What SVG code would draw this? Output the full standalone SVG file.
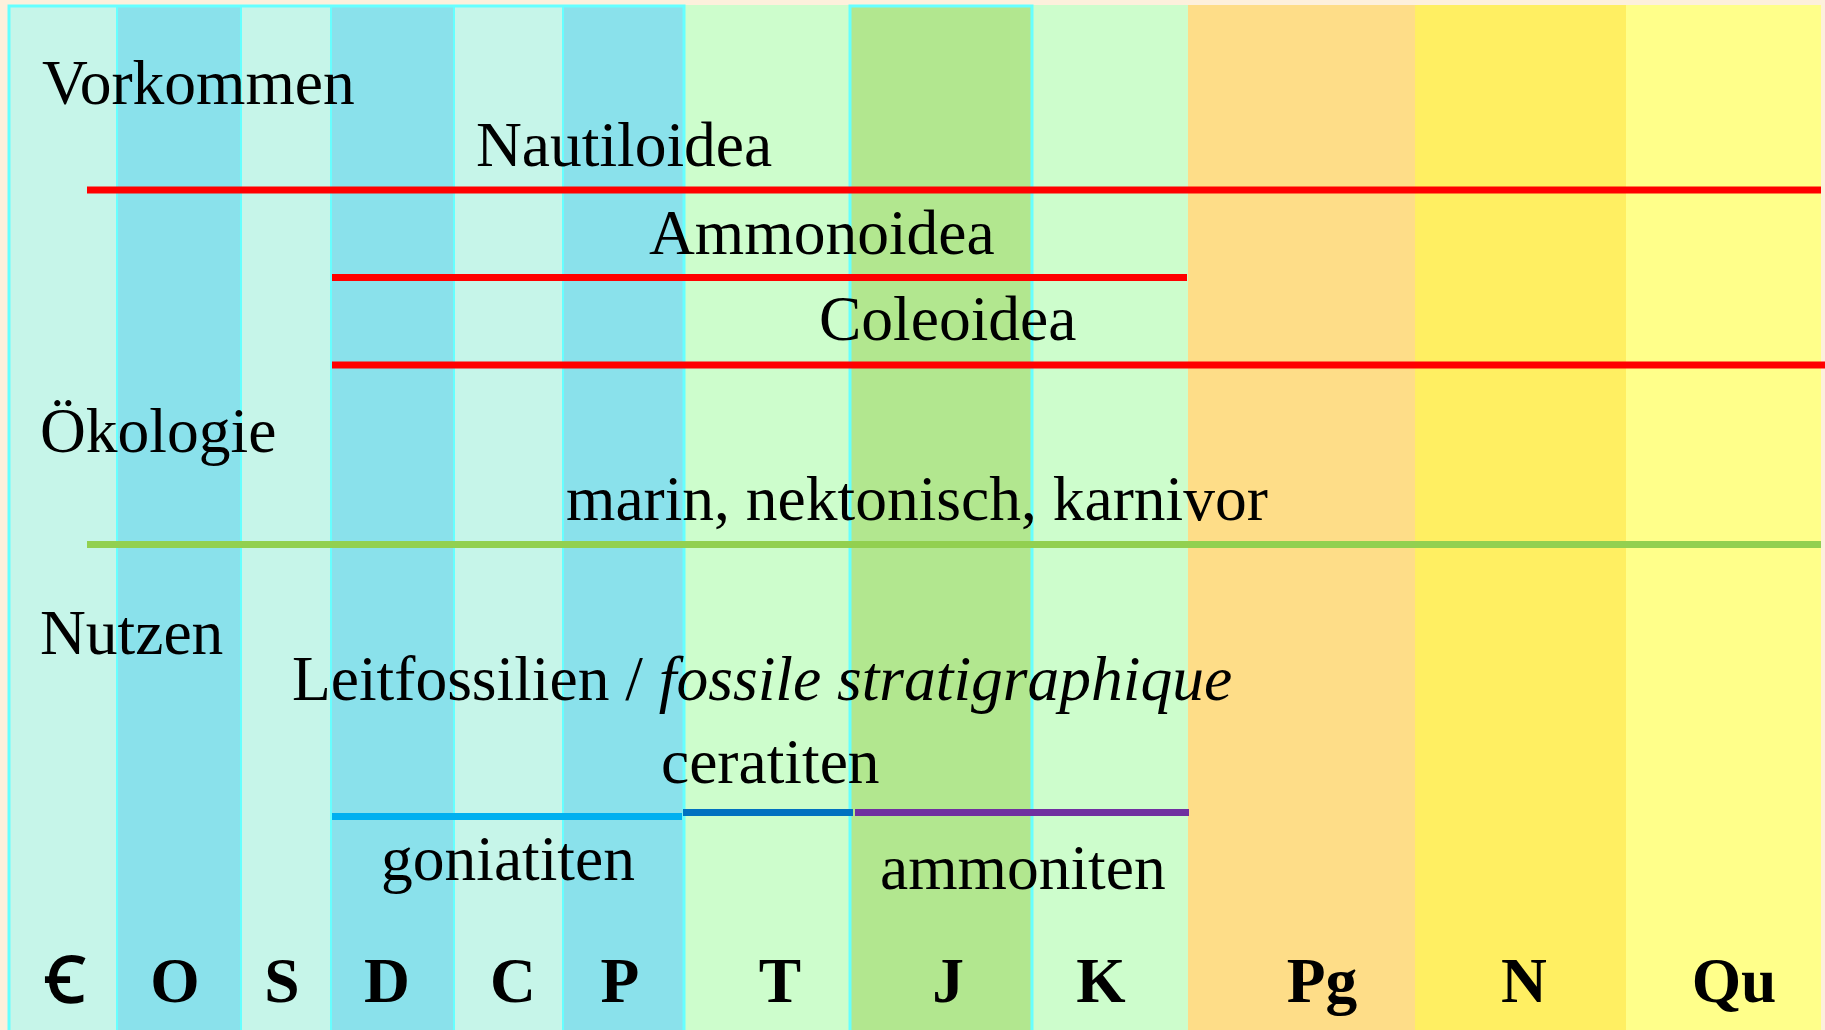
<svg xmlns="http://www.w3.org/2000/svg" width="1825" height="1030" viewBox="0 0 1825 1030">
<style>
.t{font-family:"Liberation Serif","Times New Roman",serif;font-size:63.5px;fill:#000}
.p{font-family:"Liberation Serif","DejaVu Serif","Times New Roman",serif;font-size:63.5px;font-weight:bold;fill:#000;text-anchor:middle}
.lt{fill:#c6f5e9}
.bl{fill:#8ae1eb}
.sep{stroke:#66ffff;stroke-width:2;fill:none}
.ln{stroke-width:7;fill:none}
</style>
<rect x="0" y="0" width="1825" height="1030" fill="#fdf0dc"/>
<g id="columns">
<rect class="lt" x="8" y="5" width="109" height="1025"/>
<rect class="bl" x="117" y="5" width="124" height="1025"/>
<rect class="lt" x="241" y="5" width="90" height="1025"/>
<rect class="bl" x="331" y="5" width="123" height="1025"/>
<rect class="lt" x="454" y="5" width="109" height="1025"/>
<rect class="bl" x="563" y="5" width="120" height="1025"/>
<rect x="683" y="5" width="166" height="1025" fill="#cdfdcc"/>
<rect x="849" y="5" width="183" height="1025" fill="#b2e78f"/>
<rect x="1032" y="5" width="156" height="1025" fill="#cdfdcc"/>
<rect x="1188" y="5" width="227" height="1025" fill="#fedd88"/>
<rect x="1415" y="5" width="211" height="1025" fill="#ffef62"/>
<rect x="1626" y="5" width="195" height="1025" fill="#ffff8a"/>
<path class="sep" d="M117 5V1030M241 5V1030M331 5V1030M454 5V1030M563 5V1030"/>
<rect x="9" y="6" width="675" height="1030" fill="none" stroke="#66ffff" stroke-width="3"/>
<rect x="850" y="6" width="182" height="1030" fill="none" stroke="#66ffff" stroke-width="3"/>
</g>
<g id="lines">
<line class="ln" x1="87" y1="190" x2="1821" y2="190" stroke="#ff0000"/>
<line class="ln" x1="332" y1="277.5" x2="1187" y2="277.5" stroke="#ff0000"/>
<line class="ln" x1="332" y1="365" x2="1825" y2="365" stroke="#ff0000"/>
<line class="ln" x1="87" y1="544.5" x2="1821" y2="544.5" stroke="#92d050"/>
<line class="ln" x1="332" y1="816.5" x2="682" y2="816.5" stroke="#00b0f0"/>
<line class="ln" x1="683" y1="812.5" x2="853" y2="812.5" stroke="#0070c0"/>
<line class="ln" x1="855" y1="812.5" x2="1189" y2="812.5" stroke="#7030a0"/>
</g>
<g id="labels">
<text class="t" x="42" y="104">Vorkommen</text>
<text class="t" x="476" y="166">Nautiloidea</text>
<text class="t" x="649" y="254">Ammonoidea</text>
<text class="t" x="819" y="340">Coleoidea</text>
<text class="t" x="40" y="452">Ökologie</text>
<text class="t" x="566" y="520">marin, nektonisch, karnivor</text>
<text class="t" x="40" y="654">Nutzen</text>
<text class="t" x="292" y="700">Leitfossilien / <tspan font-style="italic">fossile stratigraphique</tspan></text>
<text class="t" x="661" y="783">ceratiten</text>
<text class="t" x="381" y="880">goniatiten</text>
<text class="t" x="880" y="889">ammoniten</text>
</g>
<g id="periods">
<text class="p" x="65" y="1002">Ꞓ</text>
<text class="p" x="175" y="1002">O</text>
<text class="p" x="282" y="1002">S</text>
<text class="p" x="387" y="1002">D</text>
<text class="p" x="513" y="1002">C</text>
<text class="p" x="620" y="1002">P</text>
<text class="p" x="780" y="1002">T</text>
<text class="p" x="948" y="1002">J</text>
<text class="p" x="1101" y="1002">K</text>
<text class="p" x="1322" y="1002">Pg</text>
<text class="p" x="1524" y="1002">N</text>
<text class="p" x="1734" y="1002">Qu</text>
</g>
</svg>
